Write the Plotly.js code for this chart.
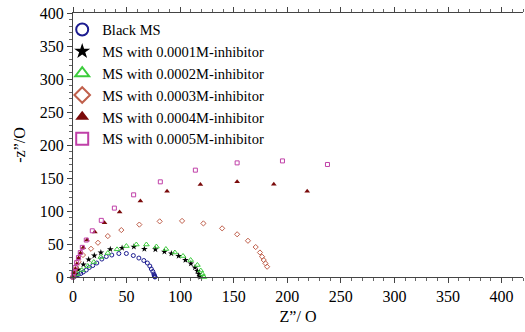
<!DOCTYPE html>
<html>
<head>
<meta charset="utf-8">
<script src="https://cdn.plot.ly/plotly-3.0.1.min.js"></script>
<style>html,body{margin:0;padding:0;background:#fff;}#chart{width:525px;height:332px;}</style>
</head>
<body>
<div id="chart"></div>
<script>
// Series names
const seriesNames = ["Black MS", "MS with 0.0001M-inhibitor", "MS with 0.0002M-inhibitor",
  "MS with 0.0003M-inhibitor", "MS with 0.0004M-inhibitor", "MS with 0.0005M-inhibitor"];

// Black MS
const blankX = [0, 1.2, 3.1, 4.9, 7.3, 9.6, 12.4, 15.2, 18.5, 22.2, 26.9, 31.1, 36.2, 42.8, 49.8, 56.3, 61.5, 66.1, 69.4, 71.7, 73.1, 74.5, 75.5, 75.9, 76.2, 76.4, 76.5];
const blankY = [0, 0.8, 2.3, 3.8, 5.3, 7.6, 10.6, 14.4, 17.4, 21.2, 27.2, 31, 33.3, 35.6, 35.6, 32.5, 28.7, 25, 21.2, 16.6, 12.1, 8.3, 4.5, 2.3, 1.2, 0.5, 0];

// 0.0001M
const inh1X = [0, 2.1, 5, 9.7, 14.6, 19.9, 26, 34.8, 45.8, 56.8, 66.6, 76.9, 85.3, 91.8, 98.6, 104.9, 110, 113.8, 116.1, 117.5, 118.3, 118.7];
const inh1Y = [0, 4.5, 11.3, 18.9, 26.5, 32.5, 37.1, 42, 43.9, 45.8, 42.4, 41.9, 38.3, 35.6, 31.8, 25.7, 20.4, 14.4, 9.1, 4.5, 1.5, 0];

// 0.0002M
const inh2X = [0, 3.7, 8.4, 13.8, 19.4, 26, 32.5, 41.1, 49.8, 59.1, 68.5, 77.8, 86.7, 95.1, 102.7, 109.8, 116.1, 119.2, 120.8, 121.7, 122.2];
const inh2Y = [0, 4.5, 10.6, 16.6, 22.7, 30.3, 36.3, 41.9, 46.9, 49.2, 49.2, 46.1, 42.4, 37.1, 31.8, 25.7, 18.2, 9.8, 4.5, 0.8, 0];

// 0.0003M
const inh3X = [0, 0.7, 1.7, 3.1, 5.2, 9.3, 16.8, 23.3, 32.5, 45.1, 61.9, 80.9, 101.8, 121.7, 139.2, 153.2, 163.3, 170.5, 174.5, 176.5, 178, 179.6, 181.2];
const inh3Y = [0, 5.3, 9.8, 13.6, 23.1, 33.3, 42.8, 51.9, 62, 71.1, 79.4, 84.3, 85, 81.2, 73.7, 64.7, 54.9, 45.4, 37.1, 30.7, 25.7, 20.7, 15.6];

// 0.0004M
const inh4X = [0, 1.2, 2.4, 3.7, 5.2, 7, 9.6, 13.1, 20.4, 29.4, 43.5, 62.9, 87.8, 118.9, 153.2, 187.4, 218.6];
const inh4Y = [0, 6.1, 12.1, 19.7, 28.7, 36.3, 44.6, 56, 68.1, 82.3, 98.3, 115, 130.1, 140.3, 144.3, 140.7, 130.1];

// 0.0005M
const inh5X = [0, 0.7, 2, 3.4, 5.1, 6.8, 8.7, 12.4, 18, 26.4, 38.6, 56.6, 81.5, 114.2, 153.2, 195.5, 237.5];
const inh5Y = [0, 6.8, 14.4, 21.9, 29.5, 37.1, 44.9, 56, 70, 85.8, 104.4, 124.5, 144.2, 161.9, 172.9, 175.9, 170.5];

const xTicks = [0, 50, 100, 150, 200, 250, 300, 350, 400];
const yTicks = [0, 50, 100, 150, 200, 250, 300, 350, 400];

const font = "Liberation Serif, Times New Roman, serif";

const traces = [
  {x: blankX, y: blankY, name: seriesNames[0], mode: "markers", cliponaxis: false,
   marker: {symbol: "circle-open", size: 4, color: "#1c1c90", line: {width: 1}}},
  {x: inh1X, y: inh1Y, name: seriesNames[1], mode: "markers", cliponaxis: false,
   marker: {symbol: "star", size: 5, color: "#000000"}},
  {x: inh2X, y: inh2Y, name: seriesNames[2], mode: "markers", cliponaxis: false,
   marker: {symbol: "triangle-up-open", size: 5, color: "#3ccc3c", line: {width: 1}}},
  {x: inh3X, y: inh3Y, name: seriesNames[3], mode: "markers", cliponaxis: false,
   marker: {symbol: "diamond-open", size: 4, color: "#c0604c", line: {width: 1}}},
  {x: inh4X, y: inh4Y, name: seriesNames[4], mode: "markers", cliponaxis: false,
   marker: {symbol: "triangle-up", size: 5, color: "#7a0a0a"}},
  {x: inh5X, y: inh5Y, name: seriesNames[5], mode: "markers", cliponaxis: false,
   marker: {symbol: "square-open", size: 4, color: "#c040a8", line: {width: 1}}}
];

const axisCommon = {
  showgrid: false, zeroline: false, showline: true, linecolor: "#444", linewidth: 1,
  ticks: "outside", ticklen: 5, tickcolor: "#444", tickwidth: 1,
  tickfont: {family: font, size: 16, color: "#000"},
  minor: {dtick: 10, ticks: "outside", ticklen: 3, tickcolor: "#666", tickwidth: 1}
};

const layout = {
  width: 525, height: 332,
  margin: {l: 73, r: 2, t: 13, b: 55},
  paper_bgcolor: "#fff", plot_bgcolor: "#fff",
  showlegend: true,
  legend: {x: -0.024, y: 0.998, xanchor: "left", yanchor: "top",
           font: {family: font, size: 14.5, color: "#000"}, bgcolor: "rgba(0,0,0,0)",
           itemsizing: "constant"},
  xaxis: Object.assign({}, axisCommon, {
    range: [0, 420], tickvals: xTicks, ticktext: xTicks.map(String), mirror: "ticks",
    title: {text: "Z”/ O", font: {family: font, size: 16, color: "#000"}, standoff: 6}
  }),
  yaxis: Object.assign({}, axisCommon, {
    range: [0, 400], tickvals: yTicks, ticktext: yTicks.map(String),
    title: {text: "-z”/O", font: {family: font, size: 16, color: "#000"}, standoff: 10}
  })
};

Plotly.newPlot("chart", traces, layout, {staticPlot: true, displayModeBar: false});
</script>
</body>
</html>
